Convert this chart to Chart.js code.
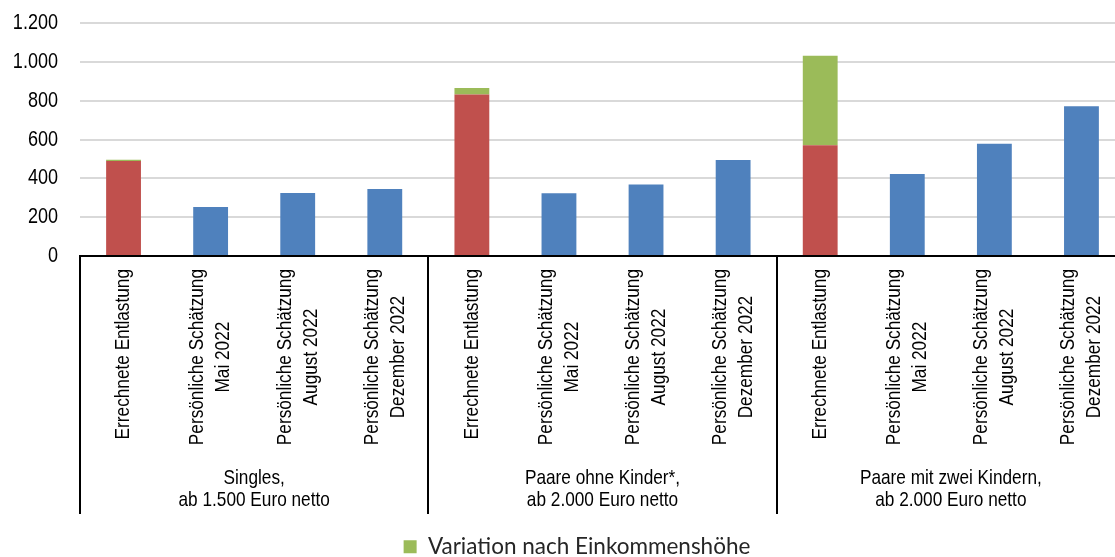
<!DOCTYPE html>
<html lang="de">
<head>
<meta charset="utf-8">
<script src="https://cdn.jsdelivr.net/npm/chart.js@4.4.1/dist/chart.umd.min.js"></script>
<style>
    html, body { margin: 0; padding: 0; background: #fff; overflow: hidden; }
    /* Diagramm ist rechts etwas breiter als das Fenster (abgeschnitten wie im Original) */
    #wrap { width: 1125px; height: 557px; }
</style>
</head>
<body>
<div id="wrap"><canvas id="entlastung-chart"></canvas></div>
<script>
// Kategorien (x-Achse), mehrzeilig
const kategorien = [
    ['Errechnete Entlastung'],
    ['Persönliche Schätzung', 'Mai 2022'],
    ['Persönliche Schätzung', 'August 2022'],
    ['Persönliche Schätzung', 'Dezember 2022'],
    ['Errechnete Entlastung'],
    ['Persönliche Schätzung', 'Mai 2022'],
    ['Persönliche Schätzung', 'August 2022'],
    ['Persönliche Schätzung', 'Dezember 2022'],
    ['Errechnete Entlastung'],
    ['Persönliche Schätzung', 'Mai 2022'],
    ['Persönliche Schätzung', 'August 2022'],
    ['Persönliche Schätzung', 'Dezember 2022']
];

// Haushaltsgruppen (je 4 Kategorien)
const gruppen = [
    ['Singles,', 'ab 1.500 Euro netto'],
    ['Paare ohne Kinder*,', 'ab 2.000 Euro netto'],
    ['Paare mit zwei Kindern,', 'ab 2.000 Euro netto']
];

// Werte in Euro
const errechnet = [489, null, null, null, 832, null, null, null, 570, null, null, null];
const variation = [7, null, null, null, 33, null, null, null, 461, null, null, null];
const schaetzung = [null, 252, 325, 345, null, 323, 368, 494, null, 422, 578, 771];

const yTicks = [0, 200, 400, 600, 800, 1000, 1200];

// keine schmale Schrift installiert -> horizontal stauchen
const schrift = '"Liberation Sans", Arial, sans-serif';
const stauchung = 0.82;

// Tausenderpunkt
function formatZahl(v) {
    return v.toString().replace(/\B(?=(\d{3})+(?!\d))/g, '.');
}

function schmalerText(ctx, text, x, y, align) {
    ctx.save();
    ctx.translate(x, y);
    ctx.scale(stauchung, 1);
    ctx.textAlign = align;
    ctx.fillText(text, 0, 0);
    ctx.restore();
}

// Beschriftung der Achsen mit Gruppen und Trennlinien
const achsenBeschriftung = {
    id: 'achsenBeschriftung',
    afterDraw(chart) {
        const ctx = chart.ctx;
        const x = chart.scales.x;
        const y = chart.scales.y;
        const y0 = chart.chartArea.bottom;
        ctx.save();
        ctx.fillStyle = '#000';
        ctx.textBaseline = 'middle';

        // y-Achse
        ctx.font = '22px ' + schrift;
        yTicks.forEach(v => {
            schmalerText(ctx, formatZahl(v), chart.chartArea.left - 22, y.getPixelForValue(v), 'right');
        });

        ctx.font = '21px ' + schrift;

        // gedrehte Kategorien
        kategorien.forEach((zeilen, i) => {
            const cx = x.getPixelForValue(i);
            const breite = Math.max(...zeilen.map(z => ctx.measureText(z).width)) * stauchung;
            ctx.save();
            ctx.translate(cx, y0 + 13 + breite / 2);
            ctx.rotate(-Math.PI / 2);
            zeilen.forEach((z, j) => {
                schmalerText(ctx, z, 0, (j - (zeilen.length - 1) / 2) * 26, 'center');
            });
            ctx.restore();
        });

        // Gruppen und Trennlinien
        const schritt = x.getPixelForValue(1) - x.getPixelForValue(0);
        ctx.strokeStyle = '#000';
        ctx.lineWidth = 2;
        gruppen.forEach((zeilen, g) => {
            const links = x.getPixelForValue(g * 4) - schritt / 2;
            const rechts = x.getPixelForValue(g * 4 + 3) + schritt / 2;
            const mitte = (links + rechts) / 2;
            zeilen.forEach((z, j) => {
                schmalerText(ctx, z, mitte, y0 + 222 + j * 22, 'center');
            });
            [links, rechts].forEach(px => {
                ctx.beginPath();
                ctx.moveTo(Math.round(px), y0);
                ctx.lineTo(Math.round(px), y0 + 258);
                ctx.stroke();
            });
        });
        ctx.restore();
    }
};

const canvas = document.getElementById('entlastung-chart');

new Chart(canvas, {
    type: 'bar',
    data: {
        labels: kategorien,
        datasets: [
            {
                label: 'Errechnete Entlastung',
                data: errechnet,
                backgroundColor: '#C0504D'
            },
            {
                label: 'Variation nach Einkommenshöhe',
                data: variation,
                backgroundColor: '#9BBB59'
            },
            {
                label: 'Persönliche Schätzung',
                data: schaetzung,
                backgroundColor: '#4F81BD'
            }
        ]
    },
    options: {
        responsive: true,
        maintainAspectRatio: false,
        animation: false,
        categoryPercentage: 1,
        barPercentage: 0.4,
        layout: {
            padding: { left: 29, right: 0, top: 23, bottom: -11 }
        },
        scales: {
            x: {
                stacked: true,
                ticks: { display: false },
                grid: { display: false },
                border: { display: true, color: '#000', width: 2 },
                afterFit: s => { s.height = 271.5; }
            },
            y: {
                stacked: true,
                min: 0,
                max: 1200,
                afterBuildTicks: s => { s.ticks = yTicks.map(v => ({ value: v })); },
                afterFit: s => { s.width = 51; },
                ticks: { display: false },
                grid: { color: '#d9d9d9', lineWidth: 2, drawTicks: false },
                border: { display: false }
            }
        },
        plugins: {
            legend: {
                position: 'bottom',
                labels: {
                    filter: item => item.datasetIndex === 1,
                    boxWidth: 13,
                    boxHeight: 13,
                    padding: 8,
                    color: '#262626',
                    font: { family: 'Lato, "Open Sans", sans-serif', size: 22.5 }
                }
            },
            tooltip: { enabled: false }
        }
    },
    plugins: [achsenBeschriftung]
});
</script>
</body>
</html>
